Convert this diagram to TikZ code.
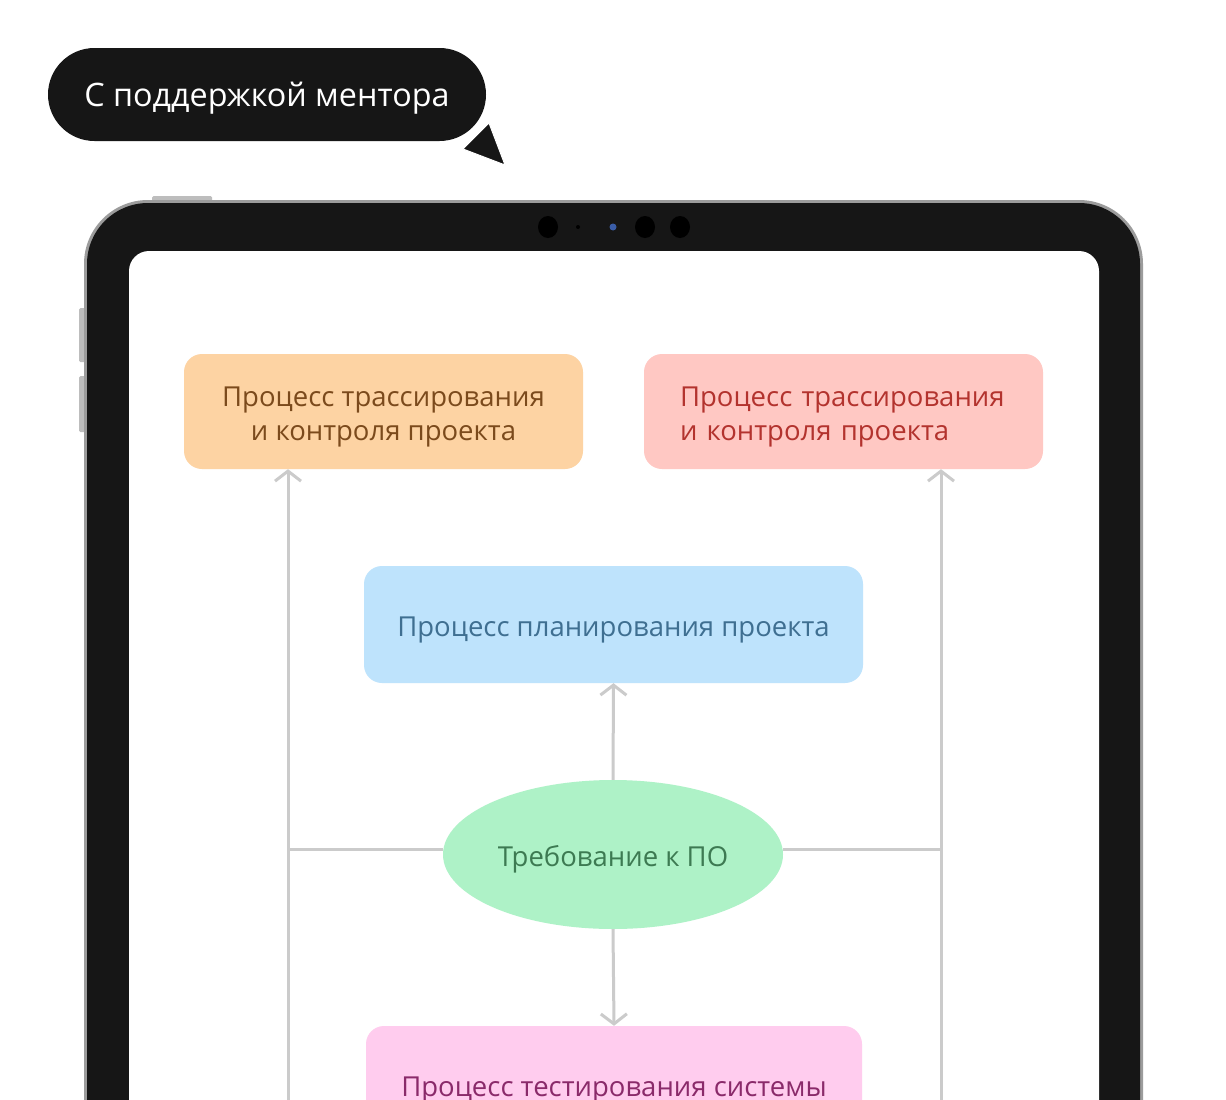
\documentclass[tikz,border=0pt]{standalone}
\usepackage{fontspec}
\setmainfont{Open Sans}
\usetikzlibrary{arrows.meta,shapes.geometric,calc}
\definecolor{bubblebg}{HTML}{161616}
\definecolor{bezel}{HTML}{161616}
\definecolor{silver}{HTML}{9C9C9C}
\definecolor{btn}{HTML}{BDBDBD}
\definecolor{conn}{HTML}{CBCBCB}
\definecolor{orfill}{HTML}{FDD3A3}
\definecolor{ortext}{HTML}{7B4A1C}
\definecolor{rdfill}{HTML}{FFC8C3}
\definecolor{rdtext}{HTML}{B3332E}
\definecolor{blfill}{HTML}{BEE3FC}
\definecolor{bltext}{HTML}{3F6F91}
\definecolor{grfill}{HTML}{AEF2C7}
\definecolor{grtext}{HTML}{3D7A52}
\definecolor{pkfill}{HTML}{FFCCEE}
\definecolor{pktext}{HTML}{8A2A6A}
\definecolor{camblue}{HTML}{3A5DA8}
\tikzset{
  boxtext/.style={font=\fontsize{27.5}{34}\selectfont},
  oneline/.style={text height=23pt, text depth=0pt},
  twoline/.style={text height=58.6pt, text depth=0pt},
  twolinetop/.style={text height=20pt, text depth=29.4pt},
  procbox/.style={rounded corners=18pt, inner sep=0pt, boxtext},
  link/.style={draw=conn, line width=3pt},
  arrowlink/.style={link, -{Straight Barb[length=10pt,width=26pt,line width=3pt]}},
}
\begin{document}
\begin{tikzpicture}[x=1pt,y=-1pt]
\useasboundingbox (0,0) rectangle (1226,1100);
\fill[white] (0,0) rectangle (1226,1100);
\clip (0,0) rectangle (1226,1100);
% bubble
\node[fill=bubblebg, rounded corners=46.5pt, minimum width=438pt, minimum height=93pt, inner sep=0pt,
  text=white, font=\fontsize{32.3}{38}\selectfont, oneline] (bubble) at (267,94.5) {С поддержкой ментора};
\fill[bubblebg, draw=white, line width=1pt] (463,149) -- (489,123) -- (505,165) -- cycle;
% tablet buttons
\fill[btn, rounded corners=1.5pt] (152,196) rectangle (212,203);
\fill[btn, rounded corners=1.5pt] (79,308) rectangle (88,362);
\fill[btn, rounded corners=1.5pt] (79,376) rectangle (88,432);
% tablet body
\fill[silver, rounded corners=64pt] (84,200) rectangle (1143,1300);
\fill[bezel, rounded corners=61pt] (87,203) rectangle (1140,1297);
\fill[white, rounded corners=20pt] (129,251) rectangle (1099,1260);
% camera
\fill[black] (548,227) ellipse [x radius=10, y radius=11];
\fill[black] (578,227) circle [radius=2];
\fill[camblue] (613,227) circle [radius=3.5];
\fill[black] (645,227) ellipse [x radius=10, y radius=11];
\fill[black] (680,227) ellipse [x radius=10, y radius=11];
% nodes
\node[procbox, fill=orfill, text=ortext, minimum width=399pt, minimum height=115pt, align=center, twoline]
  (orange) at (383.5,411.5) {Процесс трассирования\\и контроля проекта};
\node[procbox, fill=rdfill, text=rdtext, minimum width=399pt, minimum height=115pt,
  text width=327pt, align=left, twolinetop] (red) at (843.5,411.5) {Процесс трассирования\\и контроля проекта};
\node[procbox, fill=blfill, text=bltext, minimum width=499pt, minimum height=117pt, oneline]
  (blue) at (613.5,624.5) {Процесс планирования проекта};
\node[ellipse, fill=grfill, text=grtext, minimum width=340pt, minimum height=149pt, inner sep=0pt, boxtext, oneline]
  (req) at (613,854.5) {Требование к ПО};
\node[procbox, fill=pkfill, text=pktext, minimum width=496pt, minimum height=117pt, oneline]
  (test) at (614,1084.5) {Процесс тестирования системы};
% connectors
\coordinate (lbot) at (288,1100);
\coordinate (rbot) at (941,1100);
\draw[arrowlink] (lbot) -- (lbot |- orange.south);
\draw[arrowlink] (rbot) -- (rbot |- red.south);
\draw[link] ([yshift=5pt]req.west) -- ([yshift=5pt]req.west -| lbot);
\draw[link] ([yshift=5pt]req.east) -- ([yshift=5pt]req.east -| rbot);
\draw[arrowlink] (req.north) -- (blue.south);
\draw[arrowlink] (req.south) -- (test.north);
\end{tikzpicture}
\end{document}
